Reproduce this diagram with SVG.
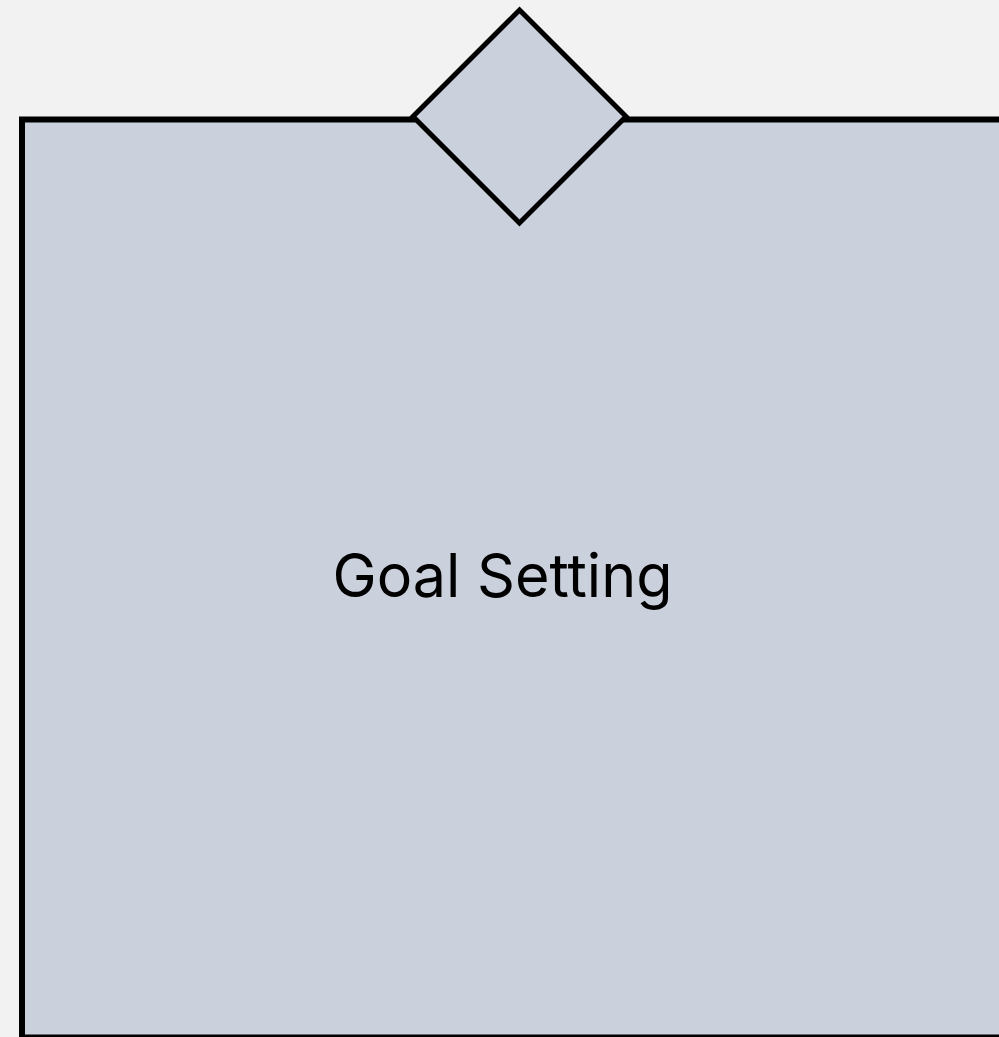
<svg xmlns="http://www.w3.org/2000/svg" width="999" height="1037" viewBox="0 0 999 1037">
<style>
.shape{fill:#cad1dc;stroke:#000;}
.label{font-family:Inter,"DejaVu Sans",sans-serif;font-size:60px;fill:#000;}
</style>
<rect width="999" height="1037" fill="#f2f2f2"/>
<g id="goal-setting">
<rect class="shape" x="22" y="119.5" width="1100" height="918" stroke-width="6"/>
<text class="label" x="502.5" y="597" text-anchor="middle" textLength="340" lengthAdjust="spacingAndGlyphs">Goal Setting</text>
</g>
<g id="diamond">
<polygon class="shape" points="519.5,10 626,116.5 519.5,223 413,116.5" stroke-width="5"/>
</g>
<g id="connectors"></g>
</svg>
